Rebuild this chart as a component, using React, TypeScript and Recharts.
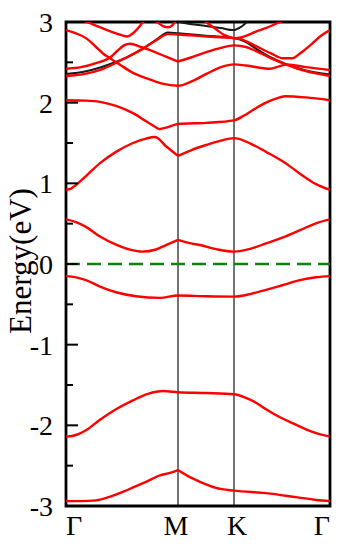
import React from "react";
import { LineChart, Line, XAxis, YAxis, ReferenceLine, ReferenceArea } from "recharts";

type Pt = [number, number];

// path positions along Γ-M-K-Γ and their labels
const kTicks = [0, 112, 168, 264];
const kLabels = ["Γ", "M", "K", "Γ"];
const eTicks = [-3, -2.5, -2, -1.5, -1, -0.5, 0, 0.5, 1, 1.5, 2, 2.5, 3];

// red bands, each split into segments (cusps at M kept sharp)
const bandLow: Pt[][] = [
  [[0, -2.94], [15, -2.94], [30, -2.93], [45, -2.88], [58, -2.82], [67, -2.77], [80, -2.7], [94, -2.62], [104, -2.59], [112, -2.555]],
  [[112, -2.555], [122, -2.63], [134, -2.7], [150, -2.775], [168, -2.81], [200, -2.84], [230, -2.89], [250, -2.925], [264, -2.94]],
];
const bandB: Pt[][] = [
  [[0, -2.14], [10, -2.12], [20, -2.06], [34, -1.93], [50, -1.8], [67, -1.69], [82, -1.61], [97, -1.575], [112, -1.59], [140, -1.6], [168, -1.615], [180, -1.66], [190, -1.72], [200, -1.8], [214, -1.9], [227, -1.975], [240, -2.05], [251, -2.1], [264, -2.14]],
];
const bandVB: Pt[][] = [
  [[0, -0.15], [10, -0.165], [20, -0.2], [34, -0.28], [50, -0.35], [70, -0.4], [94, -0.42], [112, -0.39], [140, -0.4], [168, -0.405], [185, -0.37], [200, -0.32], [217, -0.26], [234, -0.2], [250, -0.165], [264, -0.15]],
];
const bandCB: Pt[][] = [
  [[0, 0.554], [10, 0.52], [20, 0.46], [34, 0.34], [50, 0.24], [65, 0.175], [76, 0.153], [90, 0.18], [100, 0.235], [112, 0.3]],
  [[112, 0.3], [125, 0.255], [134, 0.235], [150, 0.185], [168, 0.153], [185, 0.19], [200, 0.256], [217, 0.33], [234, 0.42], [250, 0.505], [264, 0.554]],
];
const bandE: Pt[][] = [
  [[0, 0.92], [5, 0.935], [10, 0.98], [20, 1.09], [34, 1.25], [50, 1.39], [67, 1.5], [80, 1.555], [89, 1.575], [100, 1.46], [112, 1.34]],
  [[112, 1.34], [125, 1.41], [140, 1.475], [155, 1.53], [168, 1.56], [185, 1.49], [200, 1.39], [217, 1.27], [234, 1.12], [250, 0.99], [264, 0.92]],
];
const bandF: Pt[][] = [
  [[0, 2.03], [20, 2.025], [34, 2.01], [50, 1.96], [67, 1.87], [80, 1.77], [93, 1.67]],
  [[93, 1.67], [100, 1.69], [112, 1.735], [140, 1.75], [168, 1.78], [178, 1.84], [187, 1.91], [200, 2.0], [210, 2.05], [219, 2.08], [240, 2.065], [264, 2.03]],
];
const bandR1: Pt[][] = [
  [[0, 2.9], [10, 2.86], [20, 2.8], [30, 2.69], [37, 2.61], [44, 2.55], [54, 2.47], [67, 2.37], [81, 2.3], [95, 2.24], [112, 2.21], [125, 2.26], [141, 2.36], [155, 2.44], [168, 2.475], [180, 2.46], [204, 2.42], [213, 2.45], [221, 2.475], [240, 2.44], [264, 2.405]],
];
const bandR2: Pt[][] = [
  [[0, 2.42], [15, 2.44], [30, 2.49], [44, 2.56], [52, 2.65], [58, 2.71], [64, 2.73], [75, 2.69], [84, 2.65], [100, 2.57], [112, 2.51]],
  [[112, 2.51], [125, 2.56], [141, 2.63], [155, 2.68], [168, 2.71], [180, 2.69], [190, 2.64], [205, 2.55], [221, 2.47], [240, 2.39], [264, 2.33]],
];
const bandR3: Pt[][] = [
  [[0, 2.33], [20, 2.36], [35, 2.41], [51, 2.5], [65, 2.59], [77, 2.67], [90, 2.77], [102, 2.85], [112, 2.845], [140, 2.82], [168, 2.8]],
  [[168, 2.8], [174, 2.79], [190, 2.7], [205, 2.61], [217, 2.55], [226, 2.55], [235, 2.62], [245, 2.72], [255, 2.83], [264, 2.9]],
];
const bandT1: Pt[][] = [
  [[5, 3.08], [21, 3.0], [35, 2.93], [50, 2.86], [61, 2.82], [67, 2.86], [77, 3.0], [82, 3.08]],
];
const bandT2: Pt[][] = [
  [[85, 3.06], [91, 3.0], [97, 2.95], [102, 2.935], [106, 2.955], [109, 3.0], [113, 3.06]],
];
const bandT4: Pt[][] = [
  [[130, 3.1], [140, 3.0], [150, 2.91], [158, 2.84], [167, 2.8]],
  [[167, 2.8], [175, 2.81], [190, 2.88], [201, 2.93], [214, 3.0], [225, 3.06]],
];

// black bands
const bandK1: Pt[][] = [
  [[0, 2.355], [20, 2.39], [35, 2.44], [51, 2.51], [64, 2.58], [77, 2.67], [90, 2.78], [102, 2.87], [112, 2.86], [140, 2.83], [168, 2.8], [180, 2.75], [190, 2.67], [205, 2.56], [221, 2.475], [240, 2.4], [264, 2.35]],
];
const bandK2: Pt[][] = [
  [[105, 3.05], [114, 3.0], [135, 2.96], [155, 2.925], [167, 2.9], [175, 2.94], [181, 3.0], [186, 3.05]],
];

const redBands = [bandLow, bandB, bandVB, bandCB, bandE, bandF, bandR1, bandR2, bandR3, bandT1, bandT2, bandT4];
const blackBands = [bandK1, bandK2];

const serif = "'Liberation Serif', 'Times New Roman', serif";

const EnergyTick = (props: any) => {
  const { x, y, payload } = props;
  const v = payload.value;
  const major = Number.isInteger(v);
  return (
    <g>
      <line x1={x} x2={x + (major ? 12 : 7)} y1={y} y2={y} stroke="#000" strokeWidth={2} />
      {major && (
        <text x={x - 13} y={y + 10} textAnchor="end" fontSize={28} fontFamily={serif} fill="#000">
          {String(v)}
        </text>
      )}
    </g>
  );
};

const PathTick = (props: any) => {
  const { x, y, payload, index } = props;
  const anchor = index === 0 ? "start" : index === kTicks.length - 1 ? "end" : "middle";
  const shift = [0, -2, 3, 0][index] || 0;
  return (
    <text x={x + shift} y={y + 29} textAnchor={anchor} fontSize={28} fontFamily={serif} fill="#000">
      {kLabels[kTicks.indexOf(payload.value)]}
    </text>
  );
};

const EnergyLabel = (props: any) => {
  const { viewBox } = props;
  const cy = viewBox.y + viewBox.height / 2 - 3;
  const cx = 31;
  return (
    <text x={cx} y={cy} transform={`rotate(-90 ${cx} ${cy})`} textAnchor="middle" fontSize={31} fontFamily={serif} fill="#000">
      Energy(eV)
    </text>
  );
};

export default function App() {
  let n = 0;
  return (
    <div style={{ position: "absolute", left: 0, top: 0, background: "#fff" }}>
      <LineChart width={359} height={548} margin={{ top: 22, right: 29, bottom: 12, left: 0 }}>
        <XAxis
          dataKey="k"
          type="number"
          domain={[0, 264]}
          ticks={kTicks}
          interval={0}
          allowDataOverflow
          axisLine={false}
          tickLine={false}
          tickSize={0}
          tickMargin={0}
          height={30}
          tick={<PathTick />}
        />
        <YAxis
          type="number"
          domain={[-3, 3]}
          ticks={eTicks}
          interval={0}
          allowDataOverflow
          axisLine={false}
          tickLine={false}
          tickSize={0}
          tickMargin={0}
          width={66}
          tick={<EnergyTick />}
          label={<EnergyLabel />}
        />
        <ReferenceLine x={112} stroke="#000" strokeWidth={1.1} />
        <ReferenceLine x={168} stroke="#000" strokeWidth={1.1} />
        <ReferenceLine y={0} stroke="#0b840b" strokeWidth={2.5} strokeDasharray="14 7" />
        {blackBands.flat().map((seg) => (
          <Line
            key={`k${n++}`}
            data={seg.map(([k, e]) => ({ k, e }))}
            dataKey="e"
            type="monotone"
            stroke="#1a1a1a"
            strokeWidth={2}
            dot={false}
            activeDot={false}
            isAnimationActive={false}
          />
        ))}
        {redBands.flat().map((seg) => (
          <Line
            key={`r${n++}`}
            data={seg.map(([k, e]) => ({ k, e }))}
            dataKey="e"
            type="monotone"
            stroke="#ff0000"
            strokeWidth={2.4}
            dot={false}
            activeDot={false}
            isAnimationActive={false}
          />
        ))}
        <ReferenceArea x1={0} x2={264} y1={-3} y2={3} fill="none" stroke="#000" strokeWidth={2.8} ifOverflow="visible" />
      </LineChart>
    </div>
  );
}
